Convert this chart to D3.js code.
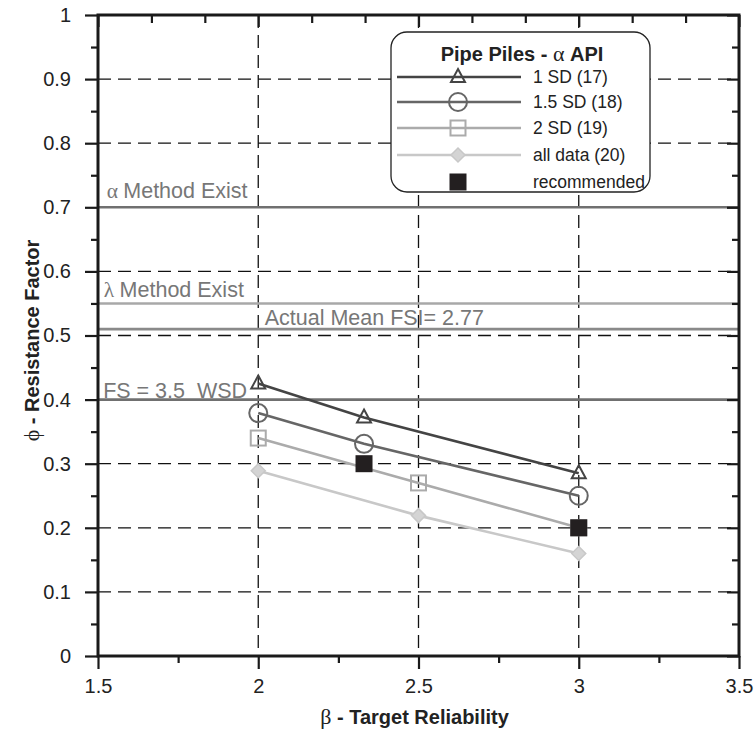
<!DOCTYPE html>
<html><head><meta charset="utf-8">
<script src="https://cdn.jsdelivr.net/npm/d3@7"></script>
<style>body{margin:0;background:#fff}svg{display:block}text{font-family:"Liberation Sans",Arial,sans-serif}</style>
</head><body>
<script>
// ---- data ----
const xTicks = [1.5, 2, 2.5, 3, 3.5];
const yTicks = [0, 0.1, 0.2, 0.3, 0.4, 0.5, 0.6, 0.7, 0.8, 0.9, 1];
const xMinor = [1.75, 2.25, 2.75, 3.25];
const xTopMinor = [1.6667, 1.8333, 2.1667, 2.3333, 2.6667, 2.8333, 3.1667, 3.3333];
const yMinor = [0.05, 0.15, 0.25, 0.35, 0.45, 0.55, 0.65, 0.75, 0.85, 0.95];
const xGrid = [2, 2.5, 3];
const yGrid = [0.1, 0.2, 0.3, 0.4, 0.5, 0.6, 0.7, 0.8, 0.9];

const sd1Beta = [2, 2.33, 3];      const sd1Phi = [0.425, 0.372, 0.285];
const sd15Beta = [2, 2.33, 3];     const sd15Phi = [0.379, 0.331, 0.25];
const sd2Beta = [2, 2.5, 3];       const sd2Phi = [0.34, 0.27, 0.2];
const allBeta = [2, 2.5, 3];       const allPhi = [0.289, 0.219, 0.16];
const recBeta = [2.33, 3];         const recPhi = [0.3, 0.2];

const refValues = [0.7, 0.55, 0.51, 0.4];
const refLabels = ["Method Exist", "Method Exist", "Actual Mean FSI= 2.77", "FS = 3.5\u00a0\u00a0WSD"];
const refGreek = ["α", "λ", "", ""];
const refLabelBeta = [1.527, 1.518, 2.02, 1.516];

const seriesNames = ["1 SD (17)", "1.5 SD (18)", "2 SD (19)", "all data (20)", "recommended"];

// ---- layout ----
const W = 756, H = 731;
const svg = d3.select("body").append("svg").attr("width", W).attr("height", H);
const x = d3.scaleLinear().domain([1.5, 3.5]).range([98, 739]);
const y = d3.scaleLinear().domain([0, 1]).range([656, 15]);

// grid
const g = svg.append("g");
g.selectAll(".vg").data(xGrid).join("line")
  .attr("x1", d => x(d)).attr("x2", d => x(d)).attr("y1", y(1)).attr("y2", y(0))
  .attr("stroke", "#111").attr("stroke-width", 1.3).attr("stroke-dasharray", "13,7");
g.selectAll(".hg").data(yGrid).join("line")
  .attr("x1", x(1.5)).attr("x2", x(3.5)).attr("y1", d => y(d)).attr("y2", d => y(d))
  .attr("stroke", "#111").attr("stroke-width", 1.3).attr("stroke-dasharray", "13,7");

// reference lines
const refColors = ["#707070", "#a8a8a8", "#8a8a8a", "#707070"];
const refOffset = [9, 6, 4, 2];
svg.selectAll(".ref").data(refValues).join("line")
  .attr("x1", x(1.5)).attr("x2", x(3.5)).attr("y1", d => y(d)).attr("y2", d => y(d))
  .attr("stroke", (d, i) => refColors[i]).attr("stroke-width", 2.6);
const refText = svg.selectAll(".reft").data(refValues).join("text")
  .attr("x", (d, i) => x(refLabelBeta[i])).attr("y", (d, i) => y(d) - refOffset[i])
  .attr("font-size", 21.5).attr("fill", "#777");
refText.append("tspan").attr("font-family", "Liberation Serif, serif")
  .text((d, i) => refGreek[i] ? refGreek[i] + " " : "");
refText.append("tspan").text((d, i) => refLabels[i]);

// series
const series = [
  {b: sd1Beta, p: sd1Phi, c: "#444", m: "tri"},
  {b: sd15Beta, p: sd15Phi, c: "#666", m: "circ"},
  {b: sd2Beta, p: sd2Phi, c: "#ababab", m: "sq"},
  {b: allBeta, p: allPhi, c: "#c8c8c8", m: "dia"}
];
const line = d3.line().x(d => x(d[0])).y(d => y(d[1]));
function marker(sel, type, c) {
  if (type === "tri") sel.append("path").attr("d", "M0,-8L7,5L-7,5Z").attr("fill", "none").attr("stroke", c).attr("stroke-width", 2);
  if (type === "circ") sel.append("circle").attr("r", 9).attr("fill", "none").attr("stroke", c).attr("stroke-width", 2);
  if (type === "sq") sel.append("rect").attr("x", -7.5).attr("y", -7.5).attr("width", 15).attr("height", 15).attr("fill", "none").attr("stroke", c).attr("stroke-width", 2);
  if (type === "dia") sel.append("path").attr("d", "M0,-7L7,0L0,7L-7,0Z").attr("fill", "#d4d4d4").attr("stroke", c).attr("stroke-width", 1.5);
  if (type === "rec") sel.append("rect").attr("x", -8.5).attr("y", -8.5).attr("width", 17).attr("height", 17).attr("fill", "#231f20");
}
series.forEach(s => {
  const pts = s.b.map((b, i) => [b, s.p[i]]);
  svg.append("path").datum(pts).attr("d", line).attr("fill", "none").attr("stroke", s.c).attr("stroke-width", 2.6);
  pts.forEach(p => marker(svg.append("g").attr("transform", `translate(${x(p[0])},${y(p[1])})`), s.m, s.c));
});
recBeta.forEach((b, i) => marker(svg.append("g").attr("transform", `translate(${x(b)},${y(recPhi[i])})`), "rec"));

// axes
const axStroke = "#1a1a1a";
function styleAxis(sel) {
  sel.select(".domain").remove();
  sel.selectAll(".tick line").attr("stroke", axStroke).attr("stroke-width", 2.2);
  sel.selectAll("text").attr("font-size", 20).attr("fill", "#222").attr("font-family", "Liberation Sans, Arial, sans-serif");
}
const fmt = d => d3.format("")(d);
svg.append("g").attr("transform", `translate(0,${y(0)})`)
  .call(d3.axisBottom(x).tickValues(xTicks).tickFormat(fmt).tickSize(13).tickPadding(10)).call(styleAxis);
svg.append("g").attr("transform", `translate(0,${y(0)})`)
  .call(d3.axisBottom(x).tickValues(xMinor).tickFormat("").tickSize(7)).call(styleAxis);
svg.append("g").attr("transform", `translate(${x(1.5)},0)`)
  .call(d3.axisLeft(y).tickValues(yTicks).tickFormat(fmt).tickSize(13).tickPadding(14)).call(styleAxis);
svg.append("g").attr("transform", `translate(${x(1.5)},0)`)
  .call(d3.axisLeft(y).tickValues(yMinor).tickFormat("").tickSize(7)).call(styleAxis);
svg.append("g").attr("transform", `translate(0,${y(1)})`)
  .call(d3.axisBottom(x).tickValues(xTicks).tickFormat("").tickSize(12)).call(styleAxis);
svg.append("g").attr("transform", `translate(0,${y(1)})`)
  .call(d3.axisBottom(x).tickValues(xTopMinor).tickFormat("").tickSize(8)).call(styleAxis);
svg.append("g").attr("transform", `translate(${x(3.5)},0)`)
  .call(d3.axisLeft(y).tickValues(yTicks).tickFormat("").tickSize(12)).call(styleAxis);
svg.append("g").attr("transform", `translate(${x(3.5)},0)`)
  .call(d3.axisLeft(y).tickValues(yMinor).tickFormat("").tickSize(7)).call(styleAxis);
svg.append("rect").attr("x", x(1.5)).attr("y", y(1)).attr("width", x(3.5) - x(1.5)).attr("height", y(0) - y(1))
  .attr("fill", "none").attr("stroke", axStroke).attr("stroke-width", 3);

// axis titles
const xt = svg.append("text").attr("x", (x(1.5) + x(3.5)) / 2 - 4).attr("y", 724).attr("text-anchor", "middle")
  .attr("font-size", 20).attr("font-weight", "bold").attr("fill", "#222");
xt.append("tspan").attr("font-family", "Liberation Serif, serif").attr("font-weight", "normal").attr("font-size", 22).text("β");
xt.append("tspan").text(" - Target Reliability");
const yt = svg.append("text").attr("transform", `translate(39,${(y(0) + y(1)) / 2 + 5}) rotate(-90)`).attr("text-anchor", "middle")
  .attr("font-size", 20).attr("font-weight", "bold").attr("fill", "#222");
yt.append("tspan").attr("font-family", "Liberation Serif, serif").attr("font-weight", "normal").attr("font-size", 22).text("ϕ");
yt.append("tspan").text(" - Resistance Factor");

// legend
const lg = svg.append("g");
lg.append("rect").attr("x", 391).attr("y", 32).attr("width", 259).attr("height", 160).attr("rx", 16)
  .attr("fill", "#fff").attr("stroke", "#222").attr("stroke-width", 1.3);
const lt = lg.append("text").attr("x", 522).attr("y", 61).attr("text-anchor", "middle")
  .attr("font-size", 20).attr("font-weight", "bold").attr("fill", "#222");
lt.append("tspan").text("Pipe Piles - ");
lt.append("tspan").attr("font-family", "Liberation Serif, serif").attr("font-weight", "normal").attr("font-size", 22).text("α");
lt.append("tspan").text(" API");
const legY = [77, 102, 128, 155, 182];
const legTypes = ["tri", "circ", "sq", "dia", "rec"];
const legCols = ["#444", "#666", "#ababab", "#c8c8c8", "#231f20"];
seriesNames.forEach((nm, i) => {
  if (i < 4) lg.append("line").attr("x1", 397).attr("x2", 521).attr("y1", legY[i]).attr("y2", legY[i])
    .attr("stroke", legCols[i]).attr("stroke-width", 2.6);
  marker(lg.append("g").attr("transform", `translate(458,${legY[i]})`), legTypes[i], legCols[i]);
  lg.append("text").attr("x", 533).attr("y", legY[i] + 6).attr("font-size", 17.5).attr("fill", "#222").text(nm);
});
</script>
</body></html>
